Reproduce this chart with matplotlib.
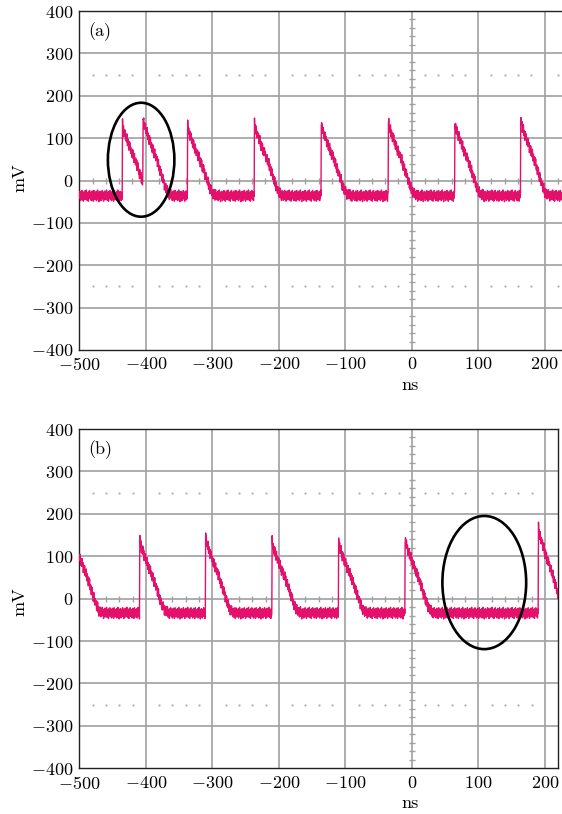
import numpy as np
import matplotlib
matplotlib.use('Agg')
import matplotlib.pyplot as plt
from matplotlib.patches import Ellipse

plt.rcParams['font.family'] = 'serif'
plt.rcParams['font.serif'] = ['cmr10']
plt.rcParams['mathtext.fontset'] = 'cm'
plt.rcParams['axes.formatter.use_mathtext'] = True

# pulse arrival times (ns) and peak heights (mV) for each capture
t_a = [-435, -404, -337, -236.5, -136, -35, 64.7, 164]
peak_a = [134, 150, 130, 137, 137, 141, 141, 147]
base_a = -35

t_b = [-508, -409, -310, -210, -110, -10, 190.5]
peak_b = [145, 141, 148, 137, 136, 143, 170]
base_b = -33

# decay of one pulse after the edge (ns after rise, mV)
shape_t = [0, 1, 2.5, 7, 13, 20, 29, 33, 38, 44]
shape_mv = [140, 130, 120, 100, 75, 48, 5, -15, -30, -35]

# scope noise riding on the signal (mV)
jitter = [3, -6, 8, -2, -11, 5, 1, -8, 10, -4, -1, 7, -12, 2, 6, -5, 9, -9, 0, 4,
          -7, 11, -3, -10, 6, -1, 3, -12, 8, -6, 2, 10, -4, -8, 5, 0, -11, 7, -2, 9,
          -7, 4, -12, 1, 10, -5, 3, -9, 6, -3, 0, 8, -11, 2, -6, 11, -1, -8, 4, -13, 7]

# circled regions: centre ns, centre mV, width ns, height mV
ring_a = (-407, 49, 100, 269)
ring_b = (109, 38, 126, 314)

pink = '#e3106c'
gridc = '#a0a0a0'


def trace(t, pulses, peaks, base):
    v = np.full_like(t, float(base))
    top = shape_mv[0] - shape_mv[-1]
    for p, h in zip(pulses, peaks):
        dt = t - p
        m = dt >= 0
        s = (np.interp(dt[m], shape_t, shape_mv) - shape_mv[-1]) / top
        v[m] = base + s * (h - base)
    n = np.arange(len(t)) % len(jitter)
    return v + 1.15 * np.array(jitter)[n]


def scope(ax, xmax, label):
    ax.set_xlim(-500, xmax)
    ax.set_ylim(-400, 400)
    ax.set_xticks(range(-500, 201, 100))
    ax.set_yticks(range(-400, 401, 100))
    for x in range(-400, 201, 100):
        ax.axvline(x, color=gridc, lw=1.2, zorder=1)
    for y in range(-300, 301, 100):
        ax.axhline(y, color=gridc, lw=1.2, zorder=1)
    # small division marks along the centre lines
    xs = [x for x in range(-480, int(xmax), 20) if x % 100 != 0]
    ys = [y for y in range(-380, 400, 20) if y % 100 != 0]
    ax.plot(xs, [0] * len(xs), ls='none', marker='|', ms=4, mew=1.0, color=gridc, zorder=1)
    ax.plot([0] * len(ys), ys, ls='none', marker='_', ms=4, mew=1.0, color=gridc, zorder=1)
    for y in (250, -250):
        ax.plot(xs, [y] * len(xs), ls='none', marker='.', ms=1.1, color='#a8a8a8', zorder=1)
    ax.tick_params(length=0, labelsize=13, pad=4.5)
    for s in ax.spines.values():
        s.set_linewidth(1.0)
        s.set_color('#222222')
    ax.text(0.019, 0.938, label, transform=ax.transAxes, fontsize=13, va='center', ha='left')


fig = plt.figure(figsize=(5.62, 8.14), dpi=100)
ax1 = fig.add_axes([79.3 / 562, 464 / 814, 484 / 562, 339 / 814])
ax2 = fig.add_axes([79.3 / 562, 45.7 / 814, 478.8 / 562, 339.3 / 814])

scope(ax1, 228, '(a)')
scope(ax2, 220, '(b)')
ax1.spines['right'].set_visible(False)

t = np.arange(-500, 230, 0.5)
ax1.plot(t, trace(t, t_a, peak_a, base_a), color=pink, lw=1.0, zorder=3)
ax2.plot(t, trace(t, t_b, peak_b, base_b), color=pink, lw=1.0, zorder=3)

for ax, r in ((ax1, ring_a), (ax2, ring_b)):
    ax.add_patch(Ellipse((r[0], r[1]), r[2], r[3], fill=False, ec='black', lw=1.9, zorder=4))

fig.text(20 / 562, 1 - 178 / 814, 'mV', rotation=90, ha='center', va='center', fontsize=13)
fig.text(20 / 562, 1 - 602 / 814, 'mV', rotation=90, ha='center', va='center', fontsize=13)
fig.text(410 / 562, 1 - 385 / 814, 'ns', ha='center', va='center', fontsize=13)
fig.text(410 / 562, 1 - 803 / 814, 'ns', ha='center', va='center', fontsize=13)

fig.savefig('out.png', dpi=100, facecolor='white')
